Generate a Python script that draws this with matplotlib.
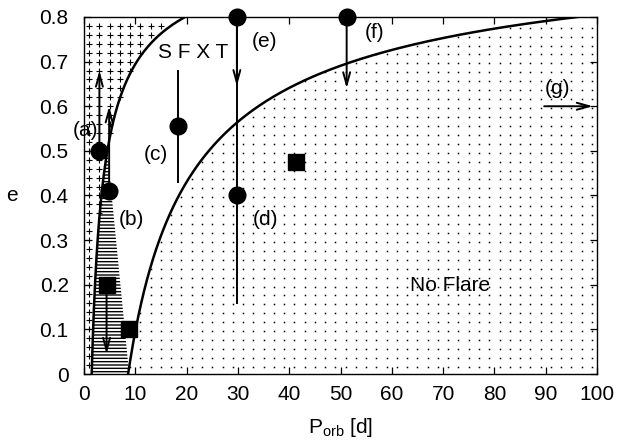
import numpy as np
import matplotlib
matplotlib.use('Agg')
import matplotlib.pyplot as plt
from matplotlib.ticker import MultipleLocator, FuncFormatter

plt.rc('font', family=['Liberation Sans', 'DejaVu Sans'], size=15)

# boundary curves  P = P0 * (1 - e)^-n
LEFT_P0, LEFT_N = 1.5, 1.6
RIGHT_P0, RIGHT_N = 8.6, 1.5

# hatched wedge: bottom right corner and top (on the left curve)
wedge_bottom_p = 8.8
wedge_top_e = 0.5

# systems
circle_p = [3.0, 4.8, 18.3, 29.8, 29.8, 51.2]
circle_e = [0.50, 0.41, 0.555, 0.40, 0.80, 0.80]
square_p = [4.5, 8.8, 41.4]
square_e = [0.20, 0.10, 0.474]

# arrows (p0, e0, p1, e1)
arrows = [
    (3.0, 0.50, 3.0, 0.68),
    (4.9, 0.41, 4.9, 0.60),
    (4.4, 0.20, 4.4, 0.045),
    (29.8, 0.80, 29.8, 0.645),
    (51.2, 0.80, 51.2, 0.64),
    (89.7, 0.60, 99.2, 0.60),
]
# plain ranges (p, e_low, e_high)
ranges = [
    (18.3, 0.43, 0.68),
    (29.8, 0.16, 0.80),
]

labels = ['(a)', '(b)', '(c)', '(d)', '(e)', '(f)', '(g)', 'S F X T', 'No Flare']
label_p = [0.3, 9.3, 14.1, 35.4, 35.2, 56.6, 92.3, 21.3, 71.3]
label_e = [0.545, 0.346, 0.492, 0.346, 0.745, 0.765, 0.64, 0.72, 0.198]


def left_curve(e):
    return LEFT_P0 * (1 - e) ** -LEFT_N


def right_curve(e):
    return RIGHT_P0 * (1 - e) ** -RIGHT_N


fig = plt.figure(figsize=(6.19, 4.44), dpi=100)
ax = fig.add_axes([84/619, 70/444, 513/619, 357/444])

# background textures
gx = np.arange(1, 100, 2)
ge = np.arange(0.02, 0.8, 0.02)
GX, GE = np.meshgrid(gx, ge)
plus_mask = GX < left_curve(GE)
ax.plot(GX[plus_mask], GE[plus_mask], '+', color='black', ms=4.5, mew=0.8)
GE_dot = GE - 0.004
dot_mask = GX > right_curve(GE_dot)
ax.plot(GX[dot_mask], GE_dot[dot_mask], 's', color='black', ms=1.1, mew=0)

# hatched wedge
we = np.linspace(0, wedge_top_e, 60)
wp = list(left_curve(we)) + [wedge_bottom_p]
wy = list(we) + [0]
plt.rcParams['hatch.linewidth'] = 1.0
ax.fill(wp, wy, facecolor='none', edgecolor='black', linewidth=0, hatch='-----')

# curves
ce = np.linspace(0, 0.8, 400)
ax.plot(left_curve(ce), ce, color='black', lw=1.8)
ax.plot(right_curve(ce), ce, color='black', lw=1.8)

for p, lo, hi in ranges:
    ax.plot([p, p], [lo, hi], color='black', lw=1.4)

for p0, e0, p1, e1 in arrows:
    ax.annotate('', xy=(p1, e1), xytext=(p0, e0),
                arrowprops=dict(arrowstyle='->,head_length=0.9,head_width=0.25',
                                color='black', lw=1.4, mutation_scale=10,
                                shrinkA=0, shrinkB=0))

ax.plot(circle_p, circle_e, 'o', color='black', ms=12, clip_on=False, zorder=5)
ax.plot(square_p, square_e, 's', color='black', ms=11.5, clip_on=False, zorder=5)

for t, p, e in zip(labels, label_p, label_e):
    ax.text(p, e, t, ha='center', va='center', fontsize=15, zorder=6)

ax.set_xlim(0, 100)
ax.set_ylim(0, 0.8)
ax.xaxis.set_major_locator(MultipleLocator(10))
ax.yaxis.set_major_locator(MultipleLocator(0.1))
ax.yaxis.set_major_formatter(FuncFormatter(lambda v, pos: '%g' % round(v, 2)))
ax.tick_params(direction='in', length=5, width=0.9, top=True, right=True)
ax.tick_params(axis='x', pad=8)
ax.tick_params(axis='y', pad=11)
for s in ax.spines.values():
    s.set_linewidth(1.0)

ax.set_xlabel(r'$\mathregular{P_{orb}}$ [d]')
ax.xaxis.set_label_coords(0.5, -0.151)
ax.xaxis.label.set_va('center')
ax.set_ylabel('e', rotation=0)
ax.yaxis.set_label_coords(-0.14, 0.5)
ax.yaxis.label.set_va('center')

fig.savefig('out.png', dpi=100)
